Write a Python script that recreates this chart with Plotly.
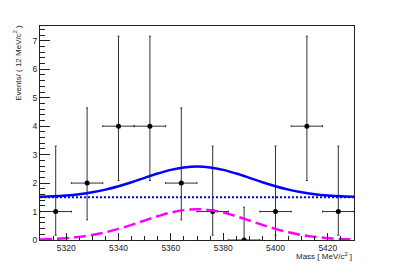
import plotly.graph_objects as go

# Data (binned events, 12 MeV bins)
bin_centers = [5316, 5328, 5340, 5352, 5364, 5376, 5388, 5400, 5412, 5424]
counts = [1, 2, 4, 4, 2, 1, 0, 1, 4, 1]
err_up = [2.30, 2.64, 3.16, 3.16, 2.64, 2.30, 1.15, 2.30, 3.16, 2.30]
err_down = [0.83, 1.29, 1.91, 1.91, 1.29, 0.83, 0.0, 0.83, 1.91, 0.83]
bin_half = [6] * 10

curve_x = [5310, 5315, 5320, 5325, 5330, 5335, 5340, 5345, 5350, 5355, 5360, 5365,
           5370, 5375, 5380, 5385, 5390, 5395, 5400, 5405, 5410, 5415, 5420, 5425, 5430]
signal_y = [0.02, 0.035, 0.065, 0.11, 0.175, 0.27, 0.39, 0.53, 0.685, 0.835, 0.965, 1.05,
            1.08, 1.05, 0.965, 0.835, 0.685, 0.53, 0.39, 0.27, 0.175, 0.11, 0.065, 0.035, 0.02]
bkg_level = [1.5, 1.5]
bkg_x = [5310, 5430]
total_y = [1.52, 1.535, 1.565, 1.61, 1.675, 1.77, 1.89, 2.03, 2.185, 2.335, 2.465, 2.55,
           2.58, 2.55, 2.465, 2.335, 2.185, 2.03, 1.89, 1.77, 1.675, 1.61, 1.565, 1.535, 1.52]

FONT = "Liberation Sans, Arial, sans-serif"

fig = go.Figure()
fig.add_trace(go.Scatter(
    x=bin_centers, y=counts, mode="markers",
    marker=dict(color="black", size=5),
    error_y=dict(type="data", symmetric=False, array=err_up, arrayminus=err_down,
                 color="#333", thickness=1, width=1),
    error_x=dict(type="data", array=bin_half, color="#333", thickness=1, width=1),
    showlegend=False, cliponaxis=True,
))
fig.add_trace(go.Scatter(
    x=bkg_x, y=bkg_level, mode="lines",
    line=dict(color="#0000ff", width=2, dash="2px,2px"), showlegend=False,
))
fig.add_trace(go.Scatter(
    x=curve_x, y=signal_y, mode="lines",
    line=dict(color="#ff00ff", width=2.5, dash="12px,5px", shape="spline"), showlegend=False,
))
fig.add_trace(go.Scatter(
    x=curve_x, y=total_y, mode="lines",
    line=dict(color="#0000ff", width=2.5, shape="spline"), showlegend=False,
))

# page body adds an 8px offset, so the figure is 8px smaller and margins shifted
fig.update_layout(
    width=386, height=260,
    margin=dict(l=32, r=40, t=18, b=28, autoexpand=False),
    paper_bgcolor="white", plot_bgcolor="white",
    font=dict(family=FONT, size=8, color="#222"),
    xaxis=dict(range=[5310, 5430], showgrid=False, zeroline=False, automargin=False,
               showline=True, linecolor="#222", linewidth=1, mirror=True,
               ticks="inside", ticklen=7, tickcolor="#222", tickwidth=1,
               tickvals=[5320, 5340, 5360, 5380, 5400, 5420],
               minor=dict(dtick=5, tick0=5310, ticks="inside", ticklen=4,
                          tickcolor="#222", showgrid=False),
               tickfont=dict(size=8.5)),
    yaxis=dict(range=[0, 7.52], showgrid=False, zeroline=False, automargin=False,
               showline=True, linecolor="#222", linewidth=1, mirror=True,
               ticks="inside", ticklen=10, tickcolor="#222", tickwidth=1,
               tickvals=[0, 1, 2, 3, 4, 5, 6, 7],
               minor=dict(dtick=0.2, tick0=0, ticks="inside", ticklen=5,
                          tickcolor="#222", showgrid=False),
               tickfont=dict(size=8.5)),
    annotations=[
        dict(text="Mass [ MeV/c<sup>2</sup> ]", xref="paper", yref="paper",
             x=1.0, y=-0.075, xanchor="right", yanchor="middle", showarrow=False,
             font=dict(size=8)),
        dict(text="Events/ ( 12 MeV/c<sup>2</sup> )", xref="paper", yref="paper",
             x=-0.073, y=1.015, xanchor="center", yanchor="top", textangle=-90,
             showarrow=False, font=dict(size=8)),
    ],
)

fig.write_html("out.html")
